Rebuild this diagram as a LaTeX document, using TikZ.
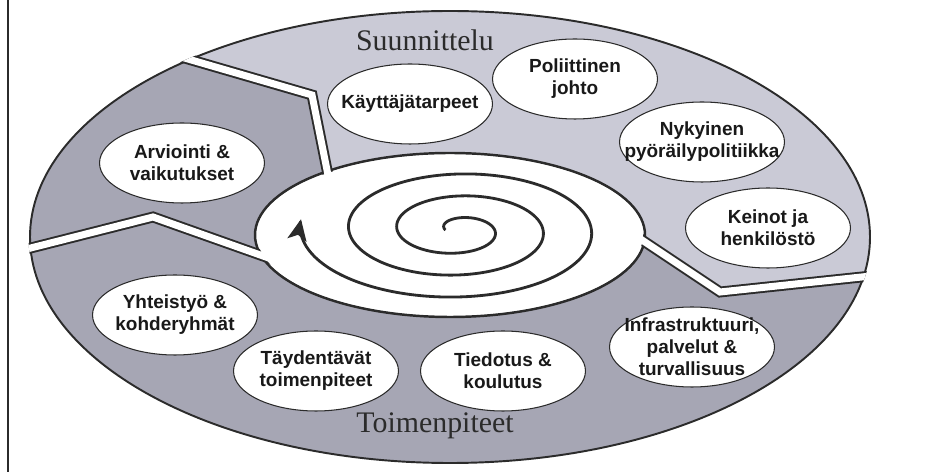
\documentclass[tikz,border=0pt]{standalone}
\usepackage{fontspec}
\setmainfont{Liberation Serif}
\setsansfont{Liberation Sans}
\definecolor{planlight}{RGB}{202,202,214}
\definecolor{actdark}{RGB}{166,166,180}
\definecolor{inkgray}{HTML}{2B2B2B}
\usetikzlibrary{shapes.geometric, arrows.meta}

\begin{document}
\begin{tikzpicture}[
  x=0.02cm, y=-0.02cm,
  bub/.style={ellipse, draw=inkgray, line width=0.6pt, fill=white,
              minimum width=3.3cm, minimum height=1.6cm, inner sep=0pt},
  lbl/.style={align=center, inner sep=0pt, text=black!90,
              font=\sffamily\bfseries\fontsize{10.8}{12.5}\selectfont},
  sep/.style={draw=inkgray, line width=1.1pt, double=white,
              double distance=4pt, line join=miter},
  ttl/.style={font=\fontsize{17}{20}\selectfont, text=inkgray},
]
\useasboundingbox (0,0) rectangle (943,472);

\coordinate (ta) at (150,48);
\coordinate (tb) at (312,95);
\coordinate (tc) at (332,195);
\coordinate (la) at (15,252);
\coordinate (lb) at (153,217);
\coordinate (lc) at (280,262);
\coordinate (ra) at (627,230);
\coordinate (rb) at (720,292);
\coordinate (rc) at (890,274);

\fill[actdark] (450,237) ellipse [x radius=420, y radius=226];
\begin{scope}
  \clip (450,237) ellipse [x radius=420, y radius=226];
  \fill[planlight] (ta) -- (tb) -- (tc) -- (450,235) -- (ra) -- (rb) -- (rc)
    -- (890,-10) -- (150,-10) -- cycle;
\end{scope}
\draw[inkgray, line width=1.1pt] (450,237) ellipse [x radius=420, y radius=226];

\draw[inkgray, line width=1.4pt, fill=white] (450,235) ellipse [x radius=195, y radius=82];
\begin{scope}
  \clip (450,237) ellipse [x radius=421.5, y radius=227.5];
  \draw[sep] (ta) -- (tb) -- (tc);
  \draw[sep] (la) -- (lb) -- (lc);
  \draw[sep] (ra) -- (rb) -- (rc);
\end{scope}
\fill[white] (450,235) ellipse [x radius=193, y radius=80];

\draw[inkgray, line width=1.6pt, -{Stealth[length=12pt, width=11pt, inset=3pt]}]
  plot[domain=3.1416:22.141, samples=500, smooth, variable=\t]
  ({458+(12.5+7.7*(\t-3.1416))*cos(\t r)}, {230+(6.5+3.5*(\t-3.1416))*sin(\t r)});

\node[bub, label={[lbl]center:Käyttäjätarpeet}] (needs) at (410,104) {};
\node[bub, label={[lbl]center:{Poliittinen\\johto}}] (lead) at (575,79) {};
\node[bub, label={[lbl]center:{Nykyinen\\pyöräilypolitiikka}}] (policy) at (702,142) {};
\node[bub, label={[lbl]center:{Keinot ja\\henkilöstö}}] (means) at (768,228) {};
\node[bub, label={[lbl]center:{Infrastruktuuri,\\palvelut \&\\turvallisuus}}] (infra) at (692,347) {};
\node[bub, label={[lbl]center:{Tiedotus \&\\koulutus}}] (info) at (503,371) {};
\node[bub, label={[lbl]center:{Täydentävät\\toimenpiteet}}] (extra) at (316,371) {};
\node[bub, label={[lbl]center:{Yhteistyö \&\\kohderyhmät}}] (coop) at (175,315) {};
\node[bub, label={[lbl]center:{Arviointi \&\\vaikutukset}}] (eval) at (182,163) {};

\node[ttl] (plan) at (425,40) {Suunnittelu};
\node[ttl] (act) at (435,426) {Toimenpiteet};

\draw[inkgray, line width=1.2pt] (8,0) -- (8,472);
\end{tikzpicture}
\end{document}
